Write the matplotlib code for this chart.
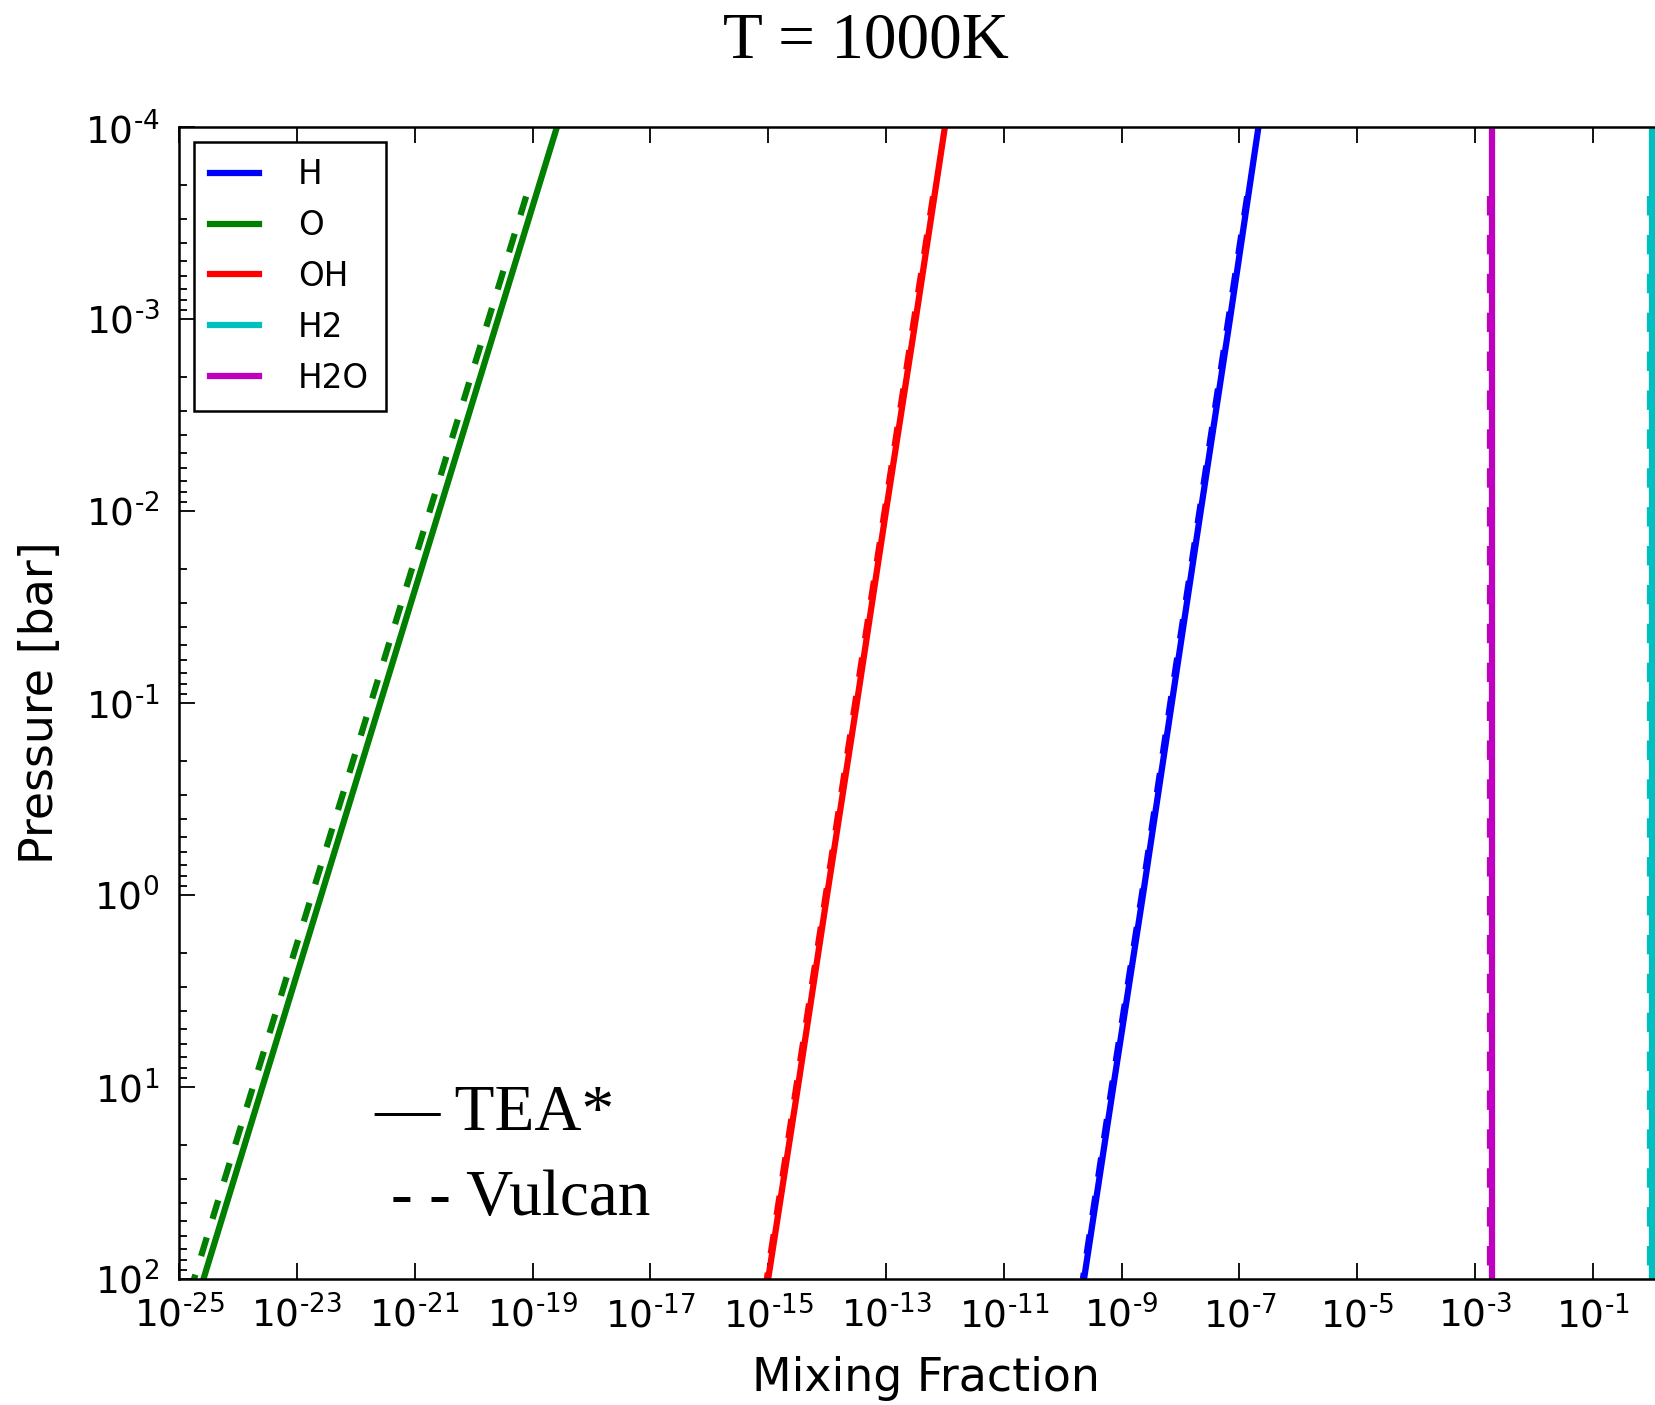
import matplotlib
matplotlib.use('Agg')
import matplotlib.pyplot as plt
from matplotlib.ticker import FixedLocator, NullLocator, FuncFormatter, LogLocator
import numpy as np

plt.rcParams['mathtext.default'] = 'regular'
plt.rcParams['axes.unicode_minus'] = False
plt.rcParams['lines.scale_dashes'] = False

# ---- data ----
species = ['H', 'O', 'OH', 'H2', 'H2O']
colors = ['#0000ff', '#007f00', '#ff0000', '#00bfbf', '#bf00bf']

# TEA* (solid), pressure in bar
pressure_tea = [1e-4, 1e-3, 1e-2, 1e-1, 1e0, 1e1, 1e2]
h_tea = [2.1e-7, 6.9e-8, 2.2e-8, 7.1e-9, 2.3e-9, 7.2e-10, 2.3e-10]
o_tea = [2.6e-19, 2.6e-20, 2.6e-21, 2.6e-22, 2.6e-23, 2.6e-24, 2.6e-25]
oh_tea = [1.0e-12, 3.2e-13, 1.0e-13, 3.2e-14, 1.0e-14, 3.2e-15, 1.0e-15]
h2_tea = [0.998, 0.998, 0.998, 0.998, 0.998, 0.998, 0.998]
h2o_tea = [1.95e-3, 1.95e-3, 1.95e-3, 1.95e-3, 1.95e-3, 1.95e-3, 1.95e-3]

# Vulcan (dashed)
pressure_vulcan = [2.3e-4, 1e-3, 1e-2, 1e-1, 1e0, 1e1, 1e2]
h_vulcan = [1.35e-7, 6.5e-8, 2.1e-8, 6.7e-9, 2.2e-9, 6.8e-10, 2.2e-10]
o_vulcan = [7.8e-20, 1.8e-20, 1.8e-21, 1.8e-22, 1.8e-23, 1.8e-24, 1.8e-25]
oh_vulcan = [6.3e-13, 3.0e-13, 9.5e-14, 3.0e-14, 9.5e-15, 3.0e-15, 9.5e-16]
h2_vulcan = [0.93, 0.93, 0.93, 0.93, 0.93, 0.93, 0.93]
h2o_vulcan = [1.82e-3, 1.82e-3, 1.82e-3, 1.82e-3, 1.82e-3, 1.82e-3, 1.82e-3]

x_ticks = [1e-25, 1e-23, 1e-21, 1e-19, 1e-17, 1e-15, 1e-13,
           1e-11, 1e-9, 1e-7, 1e-5, 1e-3, 1e-1]

tea = [h_tea, o_tea, oh_tea, h2_tea, h2o_tea]
vulcan = [h_vulcan, o_vulcan, oh_vulcan, h2_vulcan, h2o_vulcan]


def pow_label(val, pos):
    # old-style "10^-n" with a plain hyphen
    e = int(round(np.log10(val)))
    if e < 0:
        return r'$10^{\text{-}%d}$' % (-e)
    return r'$10^{%d}$' % e


fig = plt.figure(figsize=(16.56, 14.05), dpi=100, facecolor='white')
ax = fig.add_axes([0.1081, 0.0897, 0.8919, 0.8199])

for name, c, t, v in zip(species, colors, tea, vulcan):
    ax.plot(t, pressure_tea, color=c, lw=4.5, label=name)
    ax.plot(v, pressure_vulcan, color=c, lw=4.5, dashes=(14, 14))

ax.set_xscale('log')
ax.set_yscale('log')
ax.set_xlim(1e-25, 10 ** 0.07)
ax.set_ylim(1e2, 1e-4)

ax.xaxis.set_major_locator(FixedLocator(x_ticks))
ax.xaxis.set_minor_locator(NullLocator())
ax.xaxis.set_major_formatter(FuncFormatter(pow_label))
ax.yaxis.set_major_locator(LogLocator(base=10, numticks=20))
ax.yaxis.set_minor_locator(LogLocator(base=10, subs=range(2, 10), numticks=20))
ax.yaxis.set_major_formatter(FuncFormatter(pow_label))
ax.xaxis.get_offset_text().set_visible(False)
ax.yaxis.get_offset_text().set_visible(False)

ax.tick_params(which='both', direction='in', top=True, right=False, width=1.3)
ax.tick_params(which='major', length=11.5, labelsize=27)
ax.tick_params(which='minor', length=6)
ax.tick_params(axis='x', pad=12)
ax.tick_params(axis='y', pad=14)

for side in ['left', 'bottom', 'top']:
    ax.spines[side].set_linewidth(1.8)
ax.spines['right'].set_visible(False)

ax.set_xlabel('Mixing Fraction', fontsize=33, va='center')
ax.set_ylabel('Pressure [bar]', fontsize=33, va='center')
ax.xaxis.set_label_coords(0.506, -0.086)
ax.yaxis.set_label_coords(-0.094, 0.5)

leg = ax.legend(loc='upper left', fontsize=23.5, fancybox=False, framealpha=1,
                edgecolor='black', handlelength=1.5, handletextpad=1.2,
                labelspacing=0.55, borderpad=0.5, borderaxespad=0.45)
leg.get_frame().set_linewidth(1.8)

fig.text(0.523, 0.970, 'T = 1000K', ha='center', va='center',
         fontsize=47, family='Liberation Serif')
fig.text(0.226, 0.2072, '\u2014 TEA*', ha='left', va='center',
         fontsize=47, family='Liberation Serif')
fig.text(0.236, 0.1466, '- - Vulcan', ha='left', va='center',
         fontsize=47, family='Liberation Serif')

fig.savefig('out.png', dpi=100, facecolor='white')
